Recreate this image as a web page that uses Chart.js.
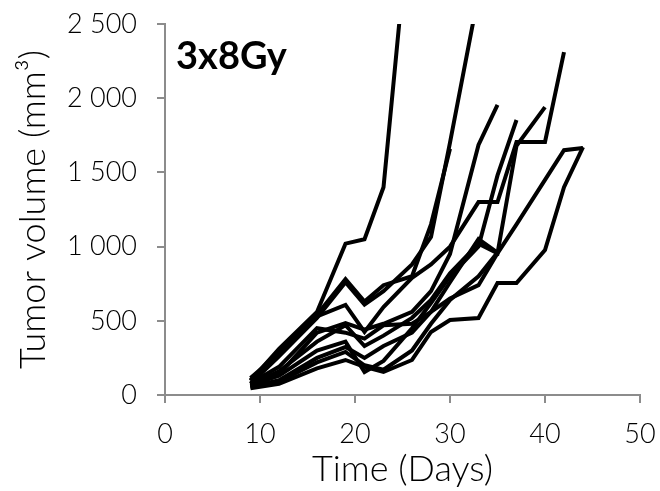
<!DOCTYPE html>
<html>
<head>
<meta charset="utf-8">
<script src="https://cdn.jsdelivr.net/npm/chart.js@4.4.1/dist/chart.umd.min.js"></script>
<style>
  html, body { margin: 0; padding: 0; background: #ffffff; }
  #wrap { width: 660px; height: 491px; }
</style>
</head>
<body>
<div id="wrap"><canvas id="c" width="660" height="491"></canvas></div>
<script>
// Measurement days (x axis)
const days = [9, 12, 16, 19, 21, 23, 26, 28, 30, 33, 35, 37, 40, 42, 44];
// Tumor volume (mm3) per mouse, one value per measurement day
const mouse1  = [95, 310, 560, 1020, 1050, 1400, 3400];
const mouse2  = [75, 260, 520, 760, 610, 700, 880, 1065, 1700, 2700];
const mouse3  = [100, 300, 540, 780, 630, 740, 800, 1150, 1660];
const mouse4  = [60, 140, 420, 485, 440, 480, 560, 700, 950, 1685, 1955];
const mouse5  = [115, 280, 530, 607, 425, 593, 790, 880, 1000, 1300, 1300, 1705, 1705, 2310];
const mouse6  = [70, 160, 360, 470, 330, 400, 520, 640, 820, 1020, 955, 1680, 1940];
const mouse7  = [65, 130, 300, 360, 155, 230, 450, 620, 800, 1000, 1480, 1853];
const mouse8  = [80, 190, 450, 420, 380, 470, 480, 560, 650, 740, 955, 1150, 1450, 1650, 1665];
const mouse9  = [55, 100, 250, 323, 250, 330, 420, 560, 760, 1050, 960];
const mouse10 = [50, 90, 220, 290, 200, 170, 300, 480, 640, 800, 960];
const mouse11 = [45, 75, 180, 236, 190, 155, 236, 425, 505, 519, 755, 755, 977, 1400, 1670];
const mice = [mouse1, mouse2, mouse3, mouse4, mouse5, mouse6, mouse7, mouse8, mouse9, mouse10, mouse11];

const xTicks = [0, 10, 20, 30, 40, 50];
const yTicks = [0, 500, 1000, 1500, 2000, 2500];
const panelTitle = '3x8Gy';

const axisColor = '#8c8c8c';
const tickFont = { family: 'Lato, "Liberation Sans", sans-serif', size: 27, weight: '300' };
const titleFont = { family: 'Lato, "Liberation Sans", sans-serif', size: 36, weight: '300' };

const datasets = mice.map(vals => ({
  data: vals.map((v, i) => ({ x: days[i], y: v })),
  borderColor: '#000000',
  borderWidth: 4,
  pointRadius: 0,
  pointHoverRadius: 0,
  tension: 0,
  fill: false
}));

function fmt(v) {
  return String(v).replace(/\B(?=(\d{3})+(?!\d))/g, ' ');
}

const panelTitlePlugin = {
  id: 'panelTitle',
  afterDatasetsDraw(chart) {
    const { ctx, chartArea } = chart;
    ctx.save();
    ctx.font = 'bold 38px Lato, "Liberation Sans", sans-serif';
    ctx.fillStyle = '#000000';
    ctx.textAlign = 'left';
    ctx.textBaseline = 'alphabetic';
    ctx.fillText(panelTitle, chartArea.left + 11, chartArea.top + 45);
    ctx.restore();
  }
};

new Chart(document.getElementById('c'), {
  type: 'line',
  data: { datasets },
  plugins: [panelTitlePlugin],
  options: {
    responsive: false,
    animation: false,
    layout: { padding: { top: 24, right: 20, left: 0, bottom: 0 } },
    plugins: { legend: { display: false }, tooltip: { enabled: false } },
    scales: {
      x: {
        type: 'linear',
        min: 0, max: 50,
        afterBuildTicks: s => { s.ticks = xTicks.map(v => ({ value: v })); },
        afterFit: s => { s.height = 96; s.paddingLeft = 0; s.paddingRight = 0; },
        ticks: { font: tickFont, color: '#000000', padding: 15, maxRotation: 0 },
        grid: { drawOnChartArea: false, drawTicks: true, tickLength: 8, color: axisColor, lineWidth: 2 },
        border: { color: axisColor, width: 2 },
        title: { display: true, text: 'Time (Days)', font: titleFont, color: '#000000', padding: { top: 0, bottom: 0 } }
      },
      y: {
        type: 'linear',
        min: 0, max: 2500,
        afterBuildTicks: s => { s.ticks = yTicks.map(v => ({ value: v })); },
        afterFit: s => { s.width = 165; s.paddingTop = 0; s.paddingBottom = 0; },
        ticks: { font: tickFont, color: '#000000', padding: 20, callback: v => fmt(v) },
        grid: { drawOnChartArea: false, drawTicks: true, tickLength: 8, color: axisColor, lineWidth: 2 },
        border: { color: axisColor, width: 2 },
        title: { display: true, text: 'Tumor volume (mm³)', font: titleFont, color: '#000000', padding: { top: 12, bottom: 0 } }
      }
    }
  }
});
</script>
</body>
</html>
